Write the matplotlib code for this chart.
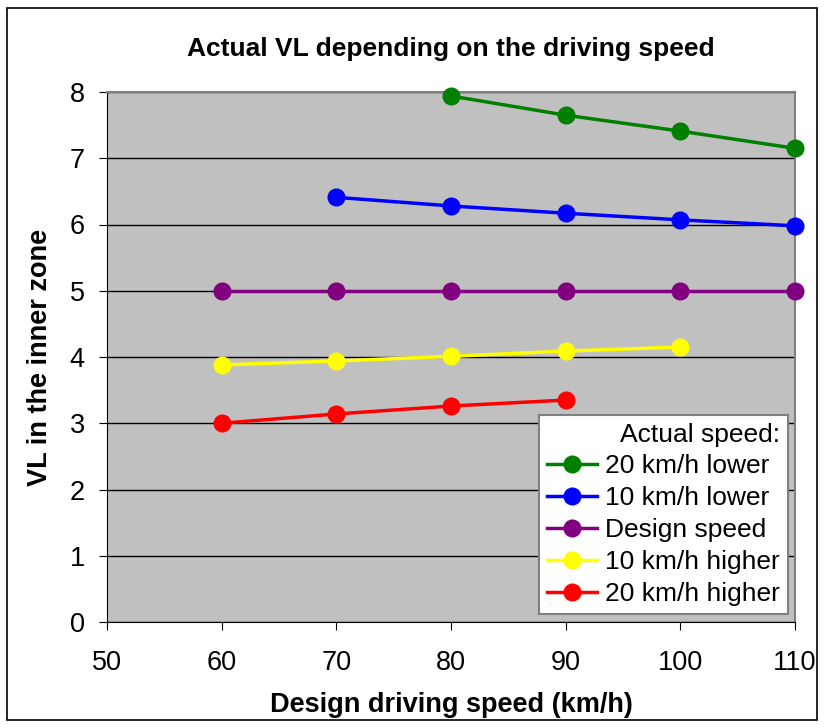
import matplotlib
matplotlib.use('Agg')
import matplotlib.pyplot as plt
from matplotlib.patches import Rectangle

plt.rcParams['font.family'] = ['Liberation Sans', 'DejaVu Sans']

# Data
x_lower20 = [80, 90, 100, 110]
vl_lower20 = [7.94, 7.65, 7.41, 7.15]
x_lower10 = [70, 80, 90, 100, 110]
vl_lower10 = [6.41, 6.28, 6.17, 6.07, 5.98]
x_design = [60, 70, 80, 90, 100, 110]
vl_design = [5.0, 5.0, 5.0, 5.0, 5.0, 5.0]
x_higher10 = [60, 70, 80, 90, 100]
vl_higher10 = [3.88, 3.94, 4.01, 4.09, 4.15]
x_higher20 = [60, 70, 80, 90]
vl_higher20 = [3.0, 3.14, 3.26, 3.35]

series = [
    (x_lower20, vl_lower20, 'green', '20 km/h lower'),
    (x_lower10, vl_lower10, 'blue', '10 km/h lower'),
    (x_design, vl_design, 'purple', 'Design speed'),
    (x_higher10, vl_higher10, 'yellow', '10 km/h higher'),
    (x_higher20, vl_higher20, 'red', '20 km/h higher'),
]

fig = plt.figure(figsize=(8.26, 7.28), dpi=100)
ax = fig.add_axes([107 / 826, 1 - 622 / 728, (795 - 107) / 826, (622 - 92) / 728])

# outer chart border
fig.patches.append(Rectangle((7 / 826, 8 / 728), 810 / 826, 712 / 728, transform=fig.transFigure,
                             fill=False, edgecolor='black', linewidth=1.2))

ax.set_facecolor('#c0c0c0')
for xs, ys, c, lab in series:
    ax.plot(xs, ys, color=c, linewidth=2.5, marker='o', markersize=12, label=lab, clip_on=False, zorder=3)

ax.set_xlim(50, 110)
ax.set_ylim(0, 8)
ax.set_xticks(range(50, 111, 10))
ax.set_yticks(range(0, 9))
ax.yaxis.grid(True, color='black', linewidth=1)
ax.set_axisbelow(True)
ax.tick_params(direction='out', length=6, labelsize=19.5, pad=10)
ax.tick_params(axis='x', pad=14)
for s in ['top', 'right']:
    ax.spines[s].set_color('gray')
    ax.spines[s].set_linewidth(1.5)
for s in ['left', 'bottom']:
    ax.spines[s].set_color('black')

ax.set_title('Actual VL depending on the driving speed', fontsize=19, fontweight='bold', pad=26)
ax.set_xlabel('Design driving speed (km/h)', fontsize=19.5, fontweight='bold', labelpad=12)
ax.set_ylabel('VL in the inner zone', fontsize=19.5, fontweight='bold', labelpad=12)

leg = ax.legend(title='Actual speed:', loc='lower right', bbox_to_anchor=(0.99, 0.015),
                fontsize=19, title_fontsize=19, frameon=True, fancybox=False, framealpha=1,
                facecolor='white', edgecolor='gray', handlelength=1.9, handletextpad=0.3,
                borderpad=0.3, labelspacing=0.3, borderaxespad=0, alignment='right')
leg.get_frame().set_linewidth(1.5)

fig.savefig('out.png', dpi=100)
